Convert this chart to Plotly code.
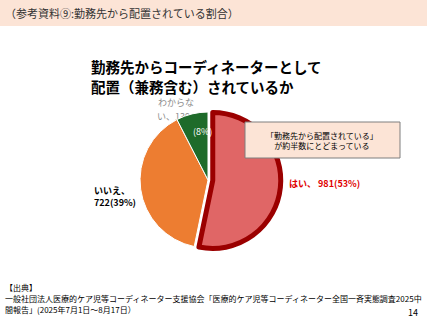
import plotly.graph_objects as go

labels = ["はい", "いいえ", "わからない"]
values = [981, 722, 139]
percents = ["53%", "39%", "8%"]
colors = ["#E06666", "#ED7D31", "#1E6B2A"]
line_colors = ["#9B0000", "#FFFFFF", "#FFFFFF"]
line_widths = [5, 1, 1]
pulls = [0.07, 0, 0]

FONT = "Noto Sans CJK JP"
W, H = 427, 320

def px(x):
    return x / W

def py(y):
    return 1 - y / H

fig = go.Figure()

# label part partly hidden behind the pie (cartesian layer is drawn beneath the pie)
fig.add_trace(go.Scatter(
    x=[px(157)], y=[py(118)], mode="text",
    text=[f"い、{values[2]}"], textposition="middle right",
    textfont=dict(family=FONT, size=9, color="#8C8C8C"),
    hoverinfo="skip", showlegend=False,
))

fig.add_trace(go.Pie(
    labels=labels, values=values, sort=False, direction="clockwise", rotation=0,
    marker=dict(colors=colors, line=dict(color=line_colors, width=line_widths)),
    pull=pulls, textinfo="none", hoverinfo="label+value+percent",
    domain=dict(x=[0.3168, 0.6575], y=[0.2102, 0.6648]),
    showlegend=False,
))

ann = []
def add(text, x, y, size, color="#000000", bold=False, xanchor="left", align="left"):
    if bold:
        text = f"<b>{text}</b>"
    ann.append(dict(text=text, x=px(x), y=py(y), xref="paper", yref="paper",
                    xanchor=xanchor, yanchor="middle", showarrow=False, align=align,
                    font=dict(family=FONT, size=size, color=color)))

add("（参考資料⑨:勤務先から配置されている割合）", 3, 13, 11, "#333333")
add("勤務先からコーディネーターとして", 89, 66, 14.5, bold=True)
add("配置（兼務含む）されているか", 89, 86, 14.5, bold=True)
add("わからな", 156, 102, 9, "#8C8C8C")
add(f"({percents[2]})", 191, 131, 9, "#FFFFFF")
add("「勤務先から配置されている」<br>が約半数にとどまっている", 322, 140, 8, xanchor="center", align="center")
add(f"{labels[0]}、 {values[0]}({percents[0]})", 287, 183, 9, "#E00000", bold=True)
add(f"{labels[1]}、", 92, 190, 9, bold=True)
add(f"{values[1]}({percents[1]})", 92, 202, 9, bold=True)
add("【出典】", 3, 287, 8)
add("一般社団法人医療的ケア児等コーディネーター支援協会「医療的ケア児等コーディネーター全国一斉実態調査2025中", 3, 298, 8)
add("間報告」(2025年7月1日～8月17日）", 3, 309, 8)
add("14", 420, 312, 9, xanchor="right")

shapes = [
    dict(type="rect", xref="paper", yref="paper", x0=0, x1=1, y0=py(26), y1=1,
         fillcolor="#FCE4D6", line=dict(width=0), layer="below"),
    dict(type="rect", xref="paper", yref="paper", x0=px(245), x1=px(400), y0=py(158), y1=py(122),
         fillcolor="#FCE4D6", line=dict(color="#7F7F7F", width=1)),
]

fig.update_layout(
    width=W, height=H, margin=dict(l=0, r=0, t=0, b=0),
    paper_bgcolor="#FFFFFF", plot_bgcolor="rgba(0,0,0,0)",
    xaxis=dict(range=[0, 1], visible=False, fixedrange=True),
    yaxis=dict(range=[0, 1], visible=False, fixedrange=True),
    annotations=ann, shapes=shapes, showlegend=False,
)

fig.write_html("out.html")
